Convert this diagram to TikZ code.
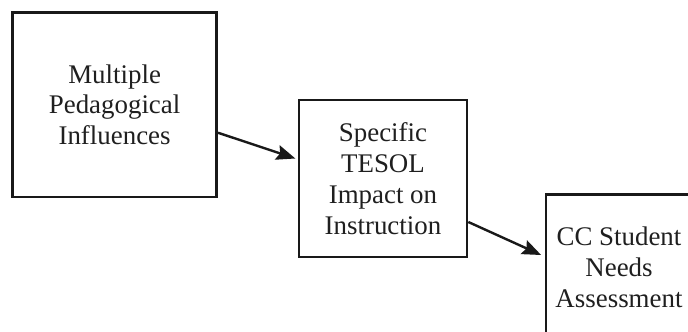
\documentclass[tikz,border=0pt]{standalone}
\usepackage{fontspec}
\setmainfont{Liberation Serif}
\usetikzlibrary{arrows.meta}
\begin{document}
\begin{tikzpicture}[x=1bp,y=-1bp,
  flowbox/.style={draw=black!90, line width=2.7bp, inner sep=0pt, align=center,
    font=\fontsize{27}{31}\selectfont, text=black!88},
  flowarrow/.style={draw=black!90, line width=2.4bp, -{Stealth[length=19bp,width=15bp,inset=3bp]}}]
\useasboundingbox (0,0) rectangle (688,331);
\clip (0,0) rectangle (688,331);
\node[flowbox, minimum width=204.2bp, minimum height=184.5bp] (b1) at (114.6,104.75) {Multiple\\Pedagogical\\Influences};
\node[flowbox, minimum width=168bp, minimum height=157bp] (b2) at (383,178.5) {Specific\\TESOL\\Impact on\\Instruction};
\node[flowbox, minimum width=146bp, minimum height=146bp] (b3) at (619,267.5) {CC Student\\Needs\\Assessment};
\draw[flowarrow] ([yshift=-28bp]b1.east) -- ([yshift=20bp,xshift=-2.3bp]b2.west);
\draw[flowarrow] ([yshift=-43.5bp]b2.east) -- ([yshift=12.5bp,xshift=-3.5bp]b3.west);
\end{tikzpicture}
\end{document}
